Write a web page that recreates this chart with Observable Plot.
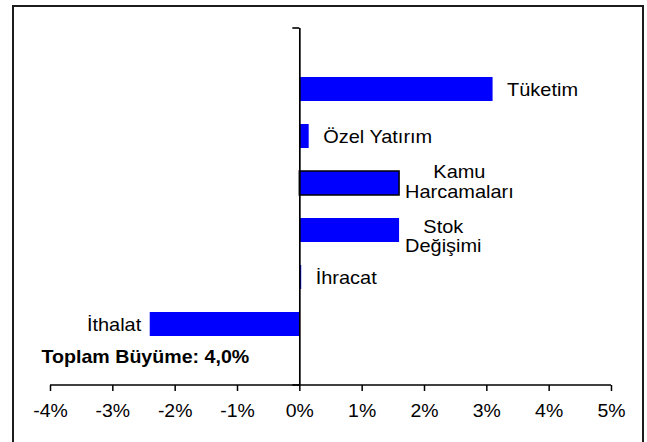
<!DOCTYPE html>
<html><head><meta charset="utf-8">
<script src="https://cdn.jsdelivr.net/npm/d3@7"></script>
<script src="https://cdn.jsdelivr.net/npm/@observablehq/plot@0.6"></script>
<style>
html,body{margin:0;padding:0;background:#fff;overflow:hidden;width:647px;height:442px;}
#frame{position:absolute;left:12px;top:5px;width:628px;height:470px;border:2px solid #1c1c1c;}
#chart{position:absolute;left:0;top:0;}
</style></head><body>
<div id="frame"></div>
<div id="chart"></div>
<script>
const categories = ["Tüketim", "Özel Yatırım", "Kamu Harcamaları", "Stok Değişimi", "İhracat", "İthalat"];
const labelLines = ["Tüketim", "Özel Yatırım", "Kamu\nHarcamaları", "Stok\nDeğişimi", "İhracat", "İthalat"];
const values = [3.1, 0.15, 1.6, 1.6, 0.03, -2.4];
const outlined = [false, false, true, false, false, false];
const xTicks = [-4, -3, -2, -1, 0, 1, 2, 3, 4, 5];
const xTickLabels = ["-4%", "-3%", "-2%", "-1%", "0%", "1%", "2%", "3%", "4%", "5%"];
const totalText = "Toplam Büyüme: 4,0%";

const data = categories.map((c, i) => ({cat: c, value: values[i], label: labelLines[i], outlined: outlined[i]}));

const W = 647, H = 442, ML = 50, MR = 36, MT = 28, MB = 57;
const BLUE = "#0000ff";
const multi = data.filter(d => d.label.includes("\n"));

const plot = Plot.plot({
  width: W, height: H,
  marginLeft: ML, marginRight: MR, marginTop: MT, marginBottom: MB,
  style: {fontFamily: "'Liberation Sans', Arial, sans-serif", fontSize: "19px", color: "#000", background: "transparent"},
  x: {domain: [xTicks[0], xTicks[xTicks.length - 1]], label: null},
  y: {domain: categories, paddingInner: 0.5, paddingOuter: 1, axis: null},
  marks: [
    Plot.barX(data, {x: "value", y: "cat", fill: BLUE}),
    Plot.barX(data, {filter: d => d.outlined, x: "value", y: "cat", fill: BLUE, stroke: "#000", strokeWidth: 1.5}),
    Plot.ruleX([0], {stroke: "#000", strokeWidth: 1.7}),
    Plot.axisX(xTicks, {label: null, tickFormat: d => xTickLabels[xTicks.indexOf(d)], tickSize: 6, tickPadding: 13, fontSize: 18, stroke: "#000", strokeWidth: 1.5, fill: "#000"}),
    Plot.text(data.filter(d => d.value >= 0 && !d.label.includes("\n")), {x: "value", y: "cat", text: "label", textAnchor: "start", dx: 14, fill: "#000"}),
    Plot.text(data.filter(d => d.value < 0), {x: "value", y: "cat", text: "label", textAnchor: "end", dx: -9, fill: "#000"}),
    Plot.text(multi.slice(0, 1), {x: "value", y: "cat", text: "label", textAnchor: "middle", lineHeight: 1.05, dy: -2, fill: "#000"}),
    Plot.text(multi.slice(1), {x: "value", y: "cat", text: "label", textAnchor: "middle", lineHeight: 1.0, dy: 6, fill: "#000"}),
    Plot.text([totalText], {frameAnchor: "bottom-left", textAnchor: "start", dx: -9, dy: -23, fontWeight: "bold", fontSize: 18.5, fill: "#000"})
  ]
});
document.getElementById("chart").append(plot);

const svg = d3.select(plot);
const xs = plot.scale("x");
const X = v => xs.apply(v);
// x axis line
svg.append("line").attr("x1", X(xTicks[0])).attr("x2", X(xTicks[xTicks.length - 1]))
  .attr("y1", H - MB).attr("y2", H - MB).attr("stroke", "#000").attr("stroke-width", 1.5);
// category axis end tick marks
[MT, H - MB].forEach(yy => {
  svg.append("line").attr("x1", X(0) - 7).attr("x2", X(0)).attr("y1", yy).attr("y2", yy)
    .attr("stroke", "#000").attr("stroke-width", 1.6);
});

// horizontal stretch of text (the reference is a widened Excel chart)
plot.querySelectorAll("text").forEach(t => {
  const spans = t.querySelectorAll("tspan");
  const targets = spans.length ? Array.from(spans) : [t];
  const isTick = xTickLabels.includes(t.textContent);
  const isBold = t.textContent === totalText;
  const f = isTick ? 1.08 : isBold ? 1.06 : 1.05;
  targets.forEach(el => {
    const len = el.getComputedTextLength();
    if (len > 0) {
      el.setAttribute("textLength", (len * f).toFixed(2));
      el.setAttribute("lengthAdjust", "spacingAndGlyphs");
    }
  });
});

// multi-line labels: left edge just after bar end
plot.querySelectorAll("text").forEach(t => {
  if (t.querySelectorAll("tspan").length < 2) return;
  const d = data.find(d => d.label.replace("\n", "") === t.textContent);
  if (!d) return;
  const bb = t.getBBox();
  const m = t.getCTM();
  const left = bb.x + (m ? m.e - plot.getCTM().e : 0);
  const target = X(d.value) + 6;
  const g = document.createElementNS("http://www.w3.org/2000/svg", "g");
  g.setAttribute("transform", `translate(${target - left},0)`);
  t.parentNode.insertBefore(g, t);
  g.appendChild(t);
});
</script>
</body></html>
